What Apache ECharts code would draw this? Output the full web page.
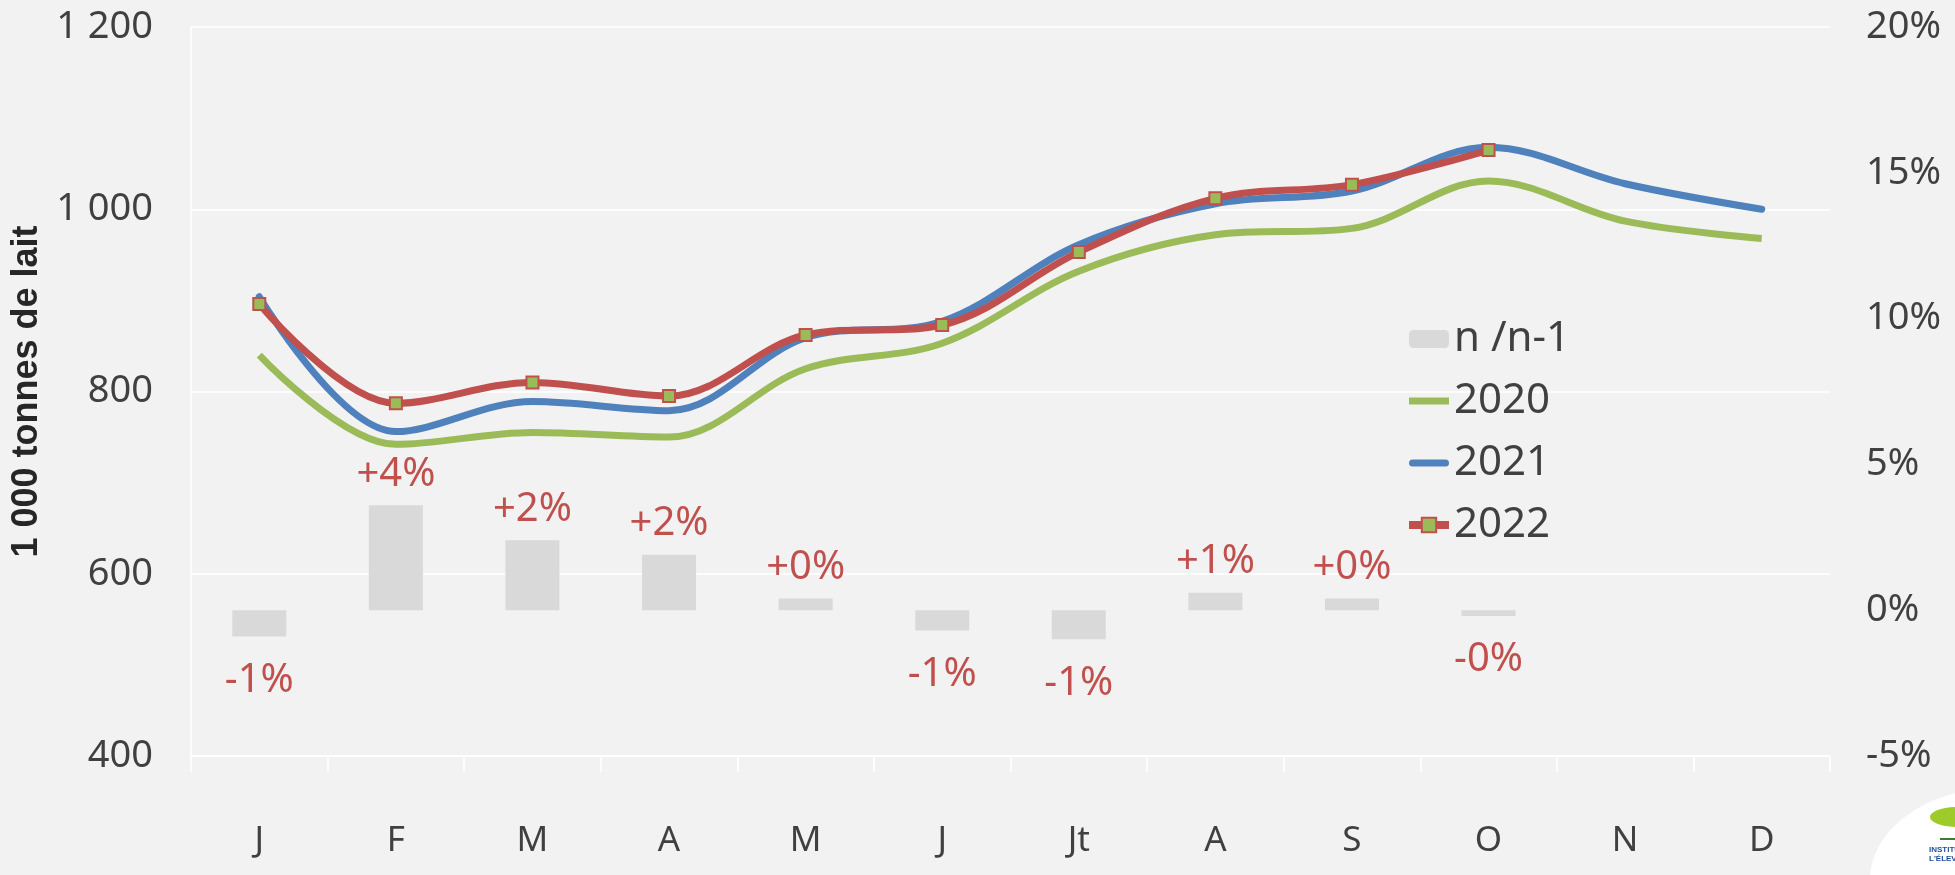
<!DOCTYPE html>
<html>
<head>
<meta charset="utf-8">
<script src="https://cdn.jsdelivr.net/npm/echarts@6/dist/echarts.min.js"></script>
<style>
  html, body { margin: 0; padding: 0; background: #f2f2f2; }
  #chart { width: 1955px; height: 875px; }
</style>
</head>
<body>
<div id="chart"></div>
<script>
// Monthly milk collection (1 000 t) and year-on-year change
const months = ['J', 'F', 'M', 'A', 'M', 'J', 'Jt', 'A', 'S', 'O', 'N', 'D'];
const collect2020 = [840, 742, 755, 750, 825, 853, 932, 972, 979, 1031, 987, 968];
const collect2021 = [904, 756, 789, 779, 859, 877, 961, 1006, 1020, 1068, 1028, 1000];
const collect2022 = [896, 787, 810, 795, 862, 873, 953, 1012, 1027, 1065, null, null];
const changePct = [-0.9, 3.6, 2.4, 1.9, 0.4, -0.7, -1.0, 0.6, 0.4, -0.2, null, null];
const leftTicks = { min: 400, max: 1200, step: 200 };
const rightTicks = { min: -5, max: 20, step: 5 };

const FONT = '"Noto Sans", "Open Sans", sans-serif';
const TEXT = '#404040';
const RED = '#c0504d';
const GREEN = '#9bbb59';
const BLUE = '#4f81bd';

function pctLabel(v) {
  const sign = (v < 0 || Object.is(v, -0)) ? '-' : '+';
  return sign + Math.abs(Math.round(v)) + '%';
}

const barData = changePct.map(v => v == null ? null : {
  value: v,
  label: { distance: v < 0 ? 24 : 11 }
});

// legend icons: thick flat bar and thick rounded bar
const flatLine = 'path://M0,0H40V7H0Z';
const roundLine = 'path://M3.5,0H36.5A3.5,3.5 0 0 1 36.5,7H3.5A3.5,3.5 0 0 1 3.5,0Z';

const chart = echarts.init(document.getElementById('chart'), null, { renderer: 'canvas' });

chart.setOption({
  backgroundColor: '#f2f2f2',
  animation: false,
  grid: { left: 191, right: 125, top: 27, bottom: 119, containLabel: false },
  legend: {
    orient: 'vertical',
    left: 1400,
    top: 313,
    itemWidth: 40,
    itemHeight: 18,
    itemGap: 20,
    textStyle: { fontFamily: FONT, fontSize: 42, color: TEXT, lineHeight: 40 },
    data: [
      { name: 'n /n-1' },
      { name: '2020', icon: flatLine },
      { name: '2021', icon: roundLine },
      { name: '2022', lineStyle: { width: 8 } }
    ]
  },
  xAxis: {
    type: 'category',
    data: months,
    boundaryGap: true,
    axisLine: { onZero: false, lineStyle: { color: '#ffffff', width: 1.5 } },
    axisTick: { show: true, length: 16, lineStyle: { color: '#ffffff', width: 1.5 } },
    axisLabel: { margin: 68, fontFamily: FONT, fontSize: 35, color: TEXT }
  },
  yAxis: [
    {
      type: 'value',
      min: leftTicks.min, max: leftTicks.max, interval: leftTicks.step,
      name: '1 000 tonnes de lait',
      nameLocation: 'middle',
      nameGap: 125,
      nameTextStyle: {
        fontFamily: '"Liberation Sans Narrow", "Liberation Sans", sans-serif',
        fontWeight: 'bold', fontSize: 36, color: '#262626'
      },
      axisLine: { show: true, lineStyle: { color: '#ffffff', width: 1.5 } },
      axisTick: { show: false },
      splitLine: { lineStyle: { color: '#ffffff', width: 1.5 } },
      axisLabel: {
        margin: 38, fontFamily: FONT, fontSize: 38, color: TEXT,
        formatter: v => String(v).replace(/\B(?=(\d{3})+(?!\d))/g, ' ')
      }
    },
    {
      type: 'value',
      min: rightTicks.min, max: rightTicks.max, interval: rightTicks.step,
      position: 'right',
      axisLine: { show: false },
      axisTick: { show: false },
      splitLine: { show: false },
      axisLabel: { margin: 36, fontFamily: FONT, fontSize: 38, color: TEXT, formatter: '{value}%' }
    }
  ],
  series: [
    {
      name: 'n /n-1',
      type: 'bar',
      yAxisIndex: 1,
      barWidth: 54,
      data: barData,
      itemStyle: { color: '#d9d9d9' },
      label: {
        show: true,
        position: 'outside',
        fontFamily: FONT,
        fontSize: 40,
        color: RED,
        formatter: p => pctLabel(p.value)
      },
      z: 1
    },
    {
      name: '2020',
      type: 'line',
      data: collect2020,
      smooth: 0.35,
      symbol: 'none',
      lineStyle: { color: GREEN, width: 7 },
      itemStyle: { color: GREEN },
      z: 3
    },
    {
      name: '2021',
      type: 'line',
      data: collect2021,
      smooth: 0.35,
      symbol: 'none',
      lineStyle: { color: BLUE, width: 7, cap: 'round' },
      itemStyle: { color: BLUE },
      z: 4
    },
    {
      name: '2022',
      type: 'line',
      data: collect2022,
      smooth: 0.35,
      symbol: 'rect',
      symbolSize: 12,
      showSymbol: true,
      lineStyle: { color: RED, width: 7 },
      itemStyle: { color: GREEN, borderColor: RED, borderWidth: 2 },
      z: 5
    }
  ],
  graphic: [
    // corner logo, partly outside the canvas
    { type: 'ellipse', shape: { cx: 1998, cy: 880, rx: 128, ry: 92 }, style: { fill: '#ffffff' }, z: 10 },
    { type: 'ellipse', shape: { cx: 1958, cy: 817, rx: 28, ry: 10 }, style: { fill: '#9ccb2a' }, z: 11 },
    { type: 'rect', shape: { x: 1940, y: 838, width: 20, height: 2 }, style: { fill: '#3a7d2c' }, z: 11 },
    { type: 'text', x: 1929, y: 846, style: { text: 'INSTITUT DE', font: 'bold 8px "Liberation Sans", sans-serif', fill: '#1f4e9c' }, z: 11 },
    { type: 'text', x: 1929, y: 855, style: { text: "L'ÉLEVAGE", font: 'bold 8px "Liberation Sans", sans-serif', fill: '#1f4e9c' }, z: 11 }
  ]
});
</script>
</body>
</html>
